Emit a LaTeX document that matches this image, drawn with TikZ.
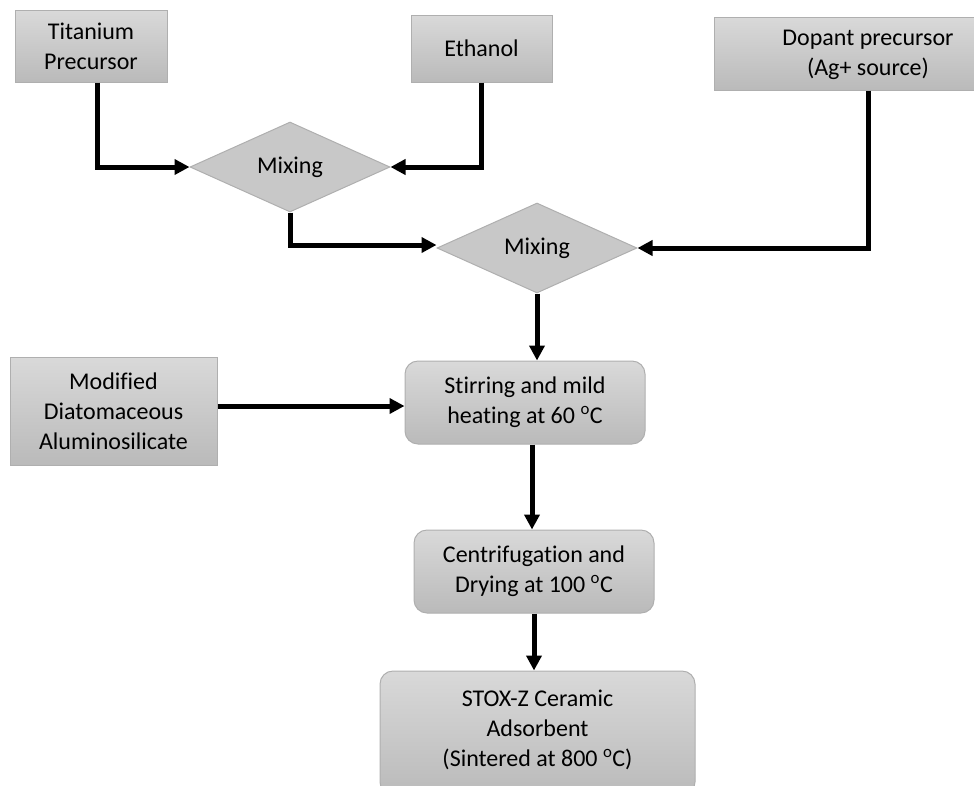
\documentclass[tikz,border=0pt]{standalone}
\usepackage{fontspec}
\setmainfont[Ligatures=NoCommon]{Carlito}
\usetikzlibrary{arrows.meta,shapes.geometric}
\definecolor{gtop}{RGB}{217,217,217}
\definecolor{gbot}{RGB}{186,186,186}
\definecolor{gedge}{RGB}{175,175,175}
\definecolor{dfill}{RGB}{200,200,200}
\tikzset{
  txt/.style={font=\fontsize{24pt}{30pt}\selectfont, align=center, text=black},
  sqbox/.style={txt, rectangle, draw=gedge, line width=1pt, top color=gtop, bottom color=gbot, inner sep=0pt},
  rbox/.style={sqbox, rounded corners=13pt},
  dia/.style={txt, diamond, draw=gedge, line width=1pt, fill=dfill, inner sep=0pt, aspect=2.22, minimum width=200pt, minimum height=90pt},
  arr/.style={line width=5pt, -{Triangle[length=15pt,width=15pt]}}
}
\begin{document}
\begin{tikzpicture}[x=1pt,y=-1pt]
\useasboundingbox (0,0) rectangle (974,785);
\node[sqbox, minimum width=152pt, minimum height=72pt] (ti) at (91,46) {Titanium\\Precursor};
\node[sqbox, minimum width=141pt, minimum height=67pt] (eth) at (481.5,48.5) {Ethanol};
\node[sqbox, minimum width=262pt, minimum height=73pt] (dop) at (845,53.5) {};
\node[txt] (doptxt) at (868,55) {Dopant precursor\\(Ag+ source)};
\node[dia] (mix1) at (290,167) {Mixing};
\node[dia] (mix2) at (537,248) {Mixing};
\node[sqbox, minimum width=207pt, minimum height=108pt] (mod) at (113.5,411) {Modified\\Diatomaceous\\Aluminosilicate};
\node[rbox, minimum width=240pt, minimum height=83pt] (stir) at (525,402.5) {Stirring and mild\\heating at 60 \textsuperscript{o}C};
\node[rbox, minimum width=240pt, minimum height=83pt] (cent) at (534,571.5) {Centrifugation and\\Drying at 100 \textsuperscript{o}C};
\node[rbox, minimum width=315pt, minimum height=124pt] (stox) at (537.5,733) {};
\node[txt] (stoxtxt) at (537.5,730) {STOX-Z Ceramic\\Adsorbent\\(Sintered at 800 \textsuperscript{o}C)};
\draw[arr] ([xshift=6pt]ti.south) |- (mix1.west);
\draw[arr] (eth.south) |- (mix1.east);
\draw[arr] (mix1.south) |- ([yshift=3pt]mix2.west);
\draw[arr] ([xshift=23pt]dop.south) |- (mix2.east);
\draw[arr] (mix2.south) -- (mix2.south |- stir.north);
\draw[arr] ([yshift=5pt]mod.east) -- ([yshift=5pt]mod.east -| stir.west);
\draw[arr] ([xshift=-2pt]cent.north |- stir.south) -- ([xshift=-2pt]cent.north);
\draw[arr] (cent.south) -- (cent.south |- stox.north);
\end{tikzpicture}
\end{document}
